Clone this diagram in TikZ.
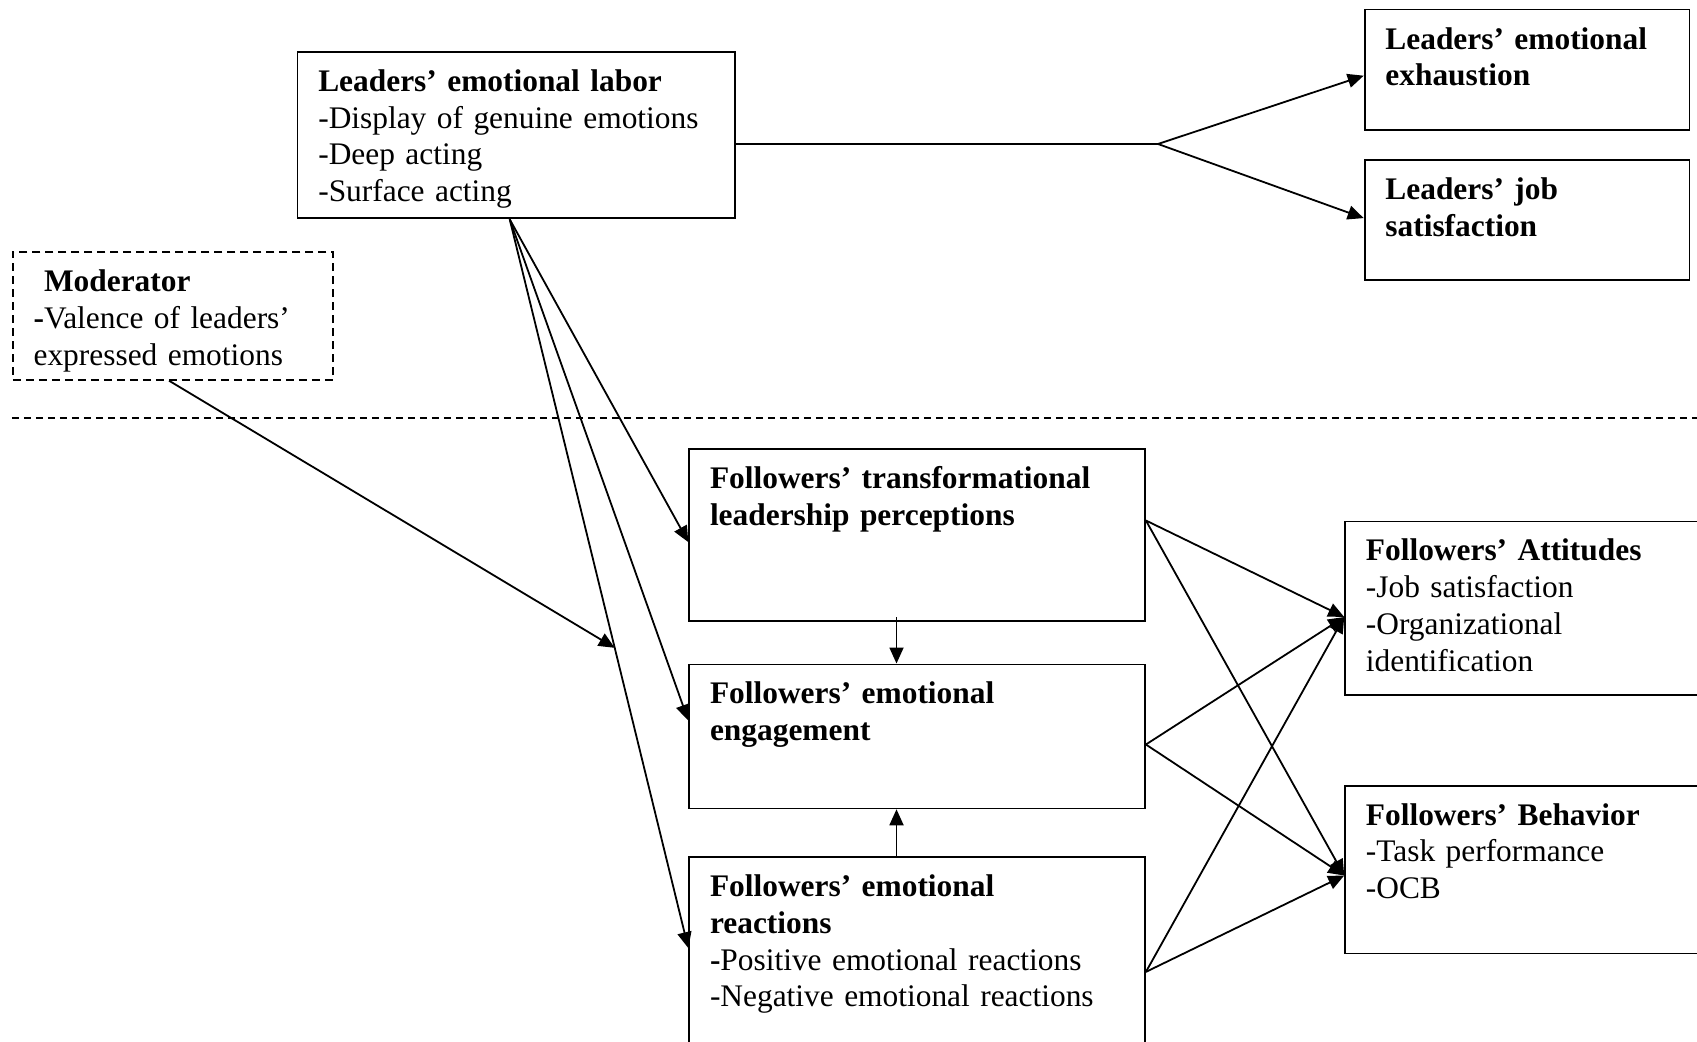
\documentclass[tikz,border=0pt]{standalone}
\usepackage{fontspec}
\setmainfont{Liberation Serif}
\usepackage{tikz}
\usetikzlibrary{positioning, arrows.meta, calc}

\begin{document}
\begin{tikzpicture}[
  x=0.5pt, y=-0.5pt,
  box/.style={draw, line width=0.9pt, anchor=north west, align=left,
              inner xsep=10.4pt, inner ysep=8.75pt, text height=11pt,
              font=\fontsize{15.7pt}{18.4pt}\selectfont},
  modbox/.style={box, dashed, dash pattern=on 4pt off 2.5pt},
  arr/.style={-{Triangle[length=8pt, width=7pt]}, line width=0.9pt},
  >=Stealth
]
  \useasboundingbox (0,0) rectangle (1697,1042);

  % Leaders side
  \node[box, text width=197.8pt, text depth=54.8pt] (labor) at (296.6,50.9)
    {\textbf{Leaders’ emotional labor}\\-Display of genuine emotions\\-Deep acting\\-Surface acting};
  \node[box, text width=141.6pt, text depth=31.6pt] (exh) at (1363.7,8.7)
    {\textbf{Leaders’ emotional}\\\textbf{exhaustion}};
  \node[box, text width=141.6pt, text depth=31.6pt] (ljs) at (1363.7,159.1)
    {\textbf{Leaders’ job}\\\textbf{satisfaction}};

  % Moderator
  \node[modbox, text width=139.4pt, text depth=35.4pt] (mod) at (11.9,251.1)
    {~\textbf{Moderator}\\\textbf{-}Valence of leaders’\\expressed emotions};

  % Separator
  \coordinate (sepL) at (11.9,417.8);
  \coordinate (sepR) at (1697,417.8);
  \draw[line width=0.9pt, dash pattern=on 3.5pt off 2.5pt] (sepL) -- (sepR);

  % Followers side
  \node[box, text width=207.1pt, text depth=57.6pt] (trans) at (688.3,448.1)
    {\textbf{Followers’ transformational}\\\textbf{leadership perceptions}};
  \node[box, text width=207.1pt, text depth=43.5pt] (eng) at (688.3,663.5)
    {\textbf{Followers’ emotional}\\\textbf{engagement}};
  \node[box, text width=207.1pt, text depth=78.5pt] (react) at (688.3,856.1)
    {\textbf{Followers’ emotional}\\\textbf{reactions}\\\textbf{-}Positive emotional reactions\\-Negative emotional reactions};
  \node[box, text width=167.1pt, text depth=58.1pt] (att) at (1344.2,520.6)
    {\textbf{Followers’ Attitudes}\\-Job satisfaction\\-Organizational\\identification};
  \node[box, text width=167.1pt, text depth=55.4pt] (beh) at (1344.2,784.7)
    {\textbf{Followers’ Behavior}\\-Task performance\\-OCB};

  % Leader outcomes
  \coordinate (fork) at (1158,144);
  \draw[line width=0.9pt] (labor.east |- fork) -- (fork);
  \draw[arr] (fork) -- ([yshift=-3pt]exh.west);
  \draw[arr] (fork) -- ([yshift=1pt]ljs.west);

  % Emotional labor to followers
  \coordinate (lstart) at ([xshift=-3.2pt]labor.south);
  \draw[arr] (lstart) -- ([yshift=-3.5pt]trans.west);
  \draw[arr] (lstart) -- ([yshift=7.9pt]eng.west);
  \draw[arr] (lstart) -- ([yshift=-46pt]react.north west) coordinate[pos=0.588] (meet);
  \draw[arr] ([xshift=-2pt]mod.south) -- (meet);

  % Between follower boxes
  \draw[arr] ([xshift=-10.3pt,yshift=2.5pt]trans.south) -- ([xshift=-10.3pt]eng.north);
  \draw[arr] ([xshift=-10.3pt]react.north) -- ([xshift=-10.3pt]eng.south);

  % Follower outcomes
  \foreach \src/\dy in {trans/-36.2pt, eng/-40.5pt, react/-57.9pt} {
    \draw[arr] ([yshift=\dy]\src.north east) -- ([yshift=-48.2pt]att.north west);
    \draw[arr] ([yshift=\dy]\src.north east) -- ([yshift=-3pt]beh.west);
  }
\end{tikzpicture}
\end{document}
